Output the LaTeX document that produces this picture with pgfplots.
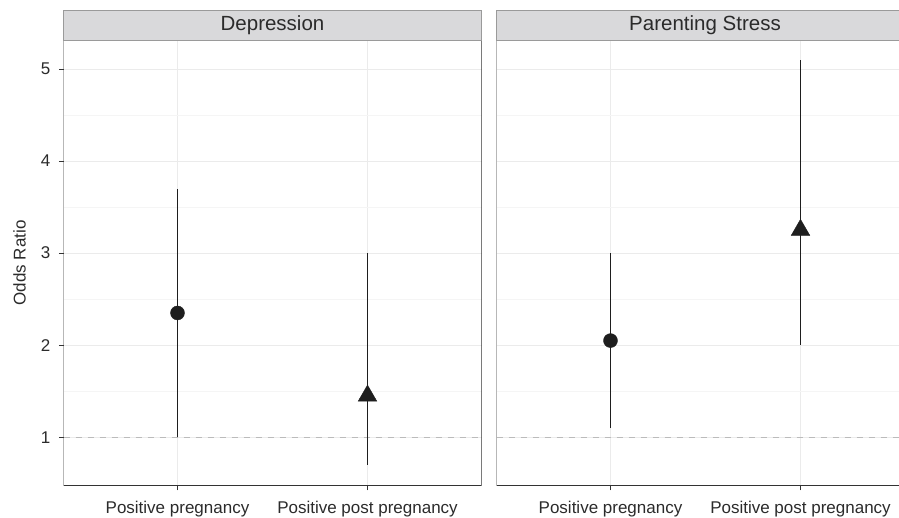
\documentclass[border=0pt]{standalone}
\usepackage{pgfplots}
\pgfplotsset{compat=1.18}
\usepackage{fontspec}
\setmainfont{Liberation Sans}
\definecolor{axgray}{HTML}{333333}
\definecolor{txtgray}{HTML}{2B2B2B}
\definecolor{gridmaj}{HTML}{EBEBEB}
\definecolor{gridmin}{HTML}{F5F5F5}
\definecolor{stripfill}{HTML}{D9D9DB}
\definecolor{stripborder}{HTML}{9A9A9A}
\definecolor{refline}{HTML}{BBBBBB}
\definecolor{pt}{HTML}{1E1E1E}
\begin{document}
\begin{tikzpicture}[x=1pt,y=1pt]
\useasboundingbox (0,0) rectangle (899,518);
\pgfplotsset{
  facet/.style={
    scale only axis, anchor=south west,
    height=445.7pt,
    ymin=0.474, ymax=5.315, xmin=0.4,
    axis line style={draw=none},
    xtick={1,2}, xticklabels={Positive pregnancy, Positive post pregnancy},
    ytick={1,2,3,4,5}, minor ytick={1.5,2.5,3.5,4.5},
    xtick pos=bottom, ytick pos=left,
    grid=both,
    major grid style={draw=gridmaj, line width=0.8pt},
    minor grid style={draw=gridmin, line width=0.6pt},
    tick align=outside, major tick length=4.7pt, minor tick length=0pt,
    tick style={draw=axgray, line width=0.9pt},
    tick label style={font=\fontsize{17}{20}\selectfont, text=txtgray},
    /pgf/number format/assume math mode=true,
    xticklabel style={yshift=-7pt},
    yticklabel style={xshift=-5pt},
  },
  cil/.style={draw=pt, line width=1.6pt, solid, no markers},
  ci/.style={only marks, color=pt, mark options={fill=pt, draw=pt, solid}},
}
% Left facet: Depression
\begin{axis}[facet, at={(63.5pt,32.3pt)}, width=418pt, xmax=2.6]
\addplot[refline, line width=1.1pt, dash pattern=on 6pt off 6pt] coordinates {(0.4,1) (2.6,1)};
\addplot[cil] coordinates {(1,1.00) (1,3.70)};
\addplot[cil] coordinates {(2,0.70) (2,3.00)};
\addplot[ci, mark=*, mark size=7pt] coordinates {(1,2.35)};
\addplot[ci, mark=triangle*, mark size=10.8pt] coordinates {(2,1.45)};
\draw[axgray, line width=1.2pt] (rel axis cs:0,1) -- (rel axis cs:0,0) -- (rel axis cs:1,0) -- (rel axis cs:1,1);
\end{axis}
% Right facet: Parenting Stress
\begin{axis}[facet, at={(496.5pt,32.3pt)}, width=402.5pt, xmax=2.5184,
  yticklabels={}, ytick style={draw=none}]
\addplot[refline, line width=1.1pt, dash pattern=on 6pt off 6pt] coordinates {(0.4,1) (2.6,1)};
\addplot[cil] coordinates {(1,1.10) (1,3.00)};
\addplot[cil] coordinates {(2,2.00) (2,5.10)};
\addplot[ci, mark=*, mark size=7pt] coordinates {(1,2.05)};
\addplot[ci, mark=triangle*, mark size=10.8pt] coordinates {(2,3.25)};
\draw[axgray, line width=1.2pt] (rel axis cs:0,1) -- (rel axis cs:0,0) -- (rel axis cs:1,0);
\end{axis}
% strips
\draw[fill=stripfill, draw=stripborder, line width=0.9pt] (63.5,478) rectangle (481.5,508);
\node[text=txtgray, font=\fontsize{20.5}{24}\selectfont] at (272.5,493) {Depression};
\draw[fill=stripfill, draw=stripborder, line width=0.9pt] (496.5,478) rectangle (900,508);
\node[text=txtgray, font=\fontsize{20.5}{24}\selectfont] at (705,493) {Parenting Stress};
\node[rotate=90, text=txtgray, font=\fontsize{17}{20}\selectfont] at (19.5,255.1) {Odds Ratio};
\end{tikzpicture}
\end{document}
